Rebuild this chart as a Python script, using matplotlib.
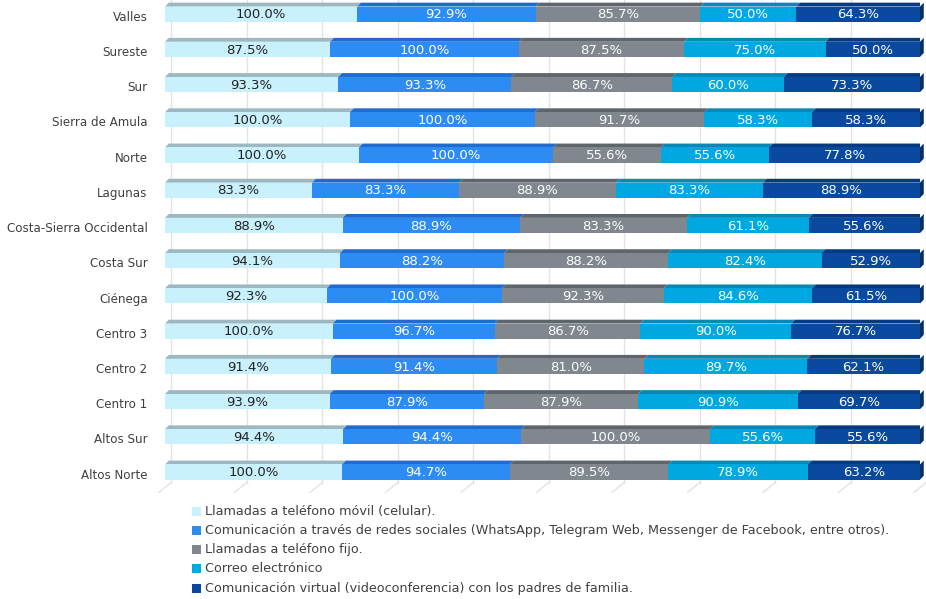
import matplotlib.pyplot as plt
from matplotlib.patches import Polygon, Rectangle
import numpy as np

regiones = ['Valles', 'Sureste', 'Sur', 'Sierra de Amula', 'Norte', 'Lagunas',
            'Costa-Sierra Occidental', 'Costa Sur', 'Ciénega', 'Centro 3',
            'Centro 2', 'Centro 1', 'Altos Sur', 'Altos Norte']

movil = [100.0, 87.5, 93.3, 100.0, 100.0, 83.3, 88.9, 94.1, 92.3, 100.0, 91.4, 93.9, 94.4, 100.0]
redes = [92.9, 100.0, 93.3, 100.0, 100.0, 83.3, 88.9, 88.2, 100.0, 96.7, 91.4, 87.9, 94.4, 94.7]
fijo = [85.7, 87.5, 86.7, 91.7, 55.6, 88.9, 83.3, 88.2, 92.3, 86.7, 81.0, 87.9, 100.0, 89.5]
correo = [50.0, 75.0, 60.0, 58.3, 55.6, 83.3, 61.1, 82.4, 84.6, 90.0, 89.7, 90.9, 55.6, 78.9]
virtual = [64.3, 50.0, 73.3, 58.3, 77.8, 88.9, 55.6, 52.9, 61.5, 76.7, 62.1, 69.7, 55.6, 63.2]

series_labels = [
    'Llamadas a teléfono móvil (celular).',
    'Comunicación a través de redes sociales (WhatsApp, Telegram Web, Messenger de Facebook, entre otros).',
    'Llamadas a teléfono fijo.',
    'Correo electrónico',
    'Comunicación virtual (videoconferencia) con los padres de familia.',
]

# color frontal, color de la cara superior, color del texto
colores = ['#c8f0fd', '#2d8cf3', '#80878e', '#00a8e1', '#0a4a9e']
colores_top = ['#9db8c0', '#1f6ccc', '#5e656b', '#0a88b5', '#063a80']
texto = ['#222222', 'white', 'white', 'white', 'white']

plt.rcParams['font.family'] = ['DejaVu Sans']

W, H = 926, 599
fig = plt.figure(figsize=(W / 100, H / 100), dpi=100)
ax = fig.add_axes([165 / W, 1 - 490 / H, 755 / W, 490 / H])
ax.set_xlim(0, 100)
ax.set_ylim(-0.51, 13.4)

data = np.array([movil, redes, fijo, correo, virtual])
pct = data / data.sum(axis=0) * 100

n = len(regiones)
ypos = np.arange(n)[::-1]  # Valles arriba
h = 0.215
dx, dy = 0.5, 0.11

# cuadrícula con "piso" en 3D
gx = 0.8
floor_back = -0.3
for v in range(0, 101, 10):
    ax.plot([v + gx, v + gx], [floor_back, 13.4], color='#e3e3e3', lw=1, zorder=0, clip_on=False)
    ax.plot([v + gx, v - gx], [floor_back, floor_back - 0.28], color='#e3e3e3', lw=1, zorder=0, clip_on=False)

for i, y in enumerate(ypos):
    left = 0.0
    for k in range(5):
        w = pct[k, i]
        front = Polygon([(left, y - h), (left + w, y - h), (left + w, y + h), (left, y + h)],
                        closed=True, facecolor=colores[k], edgecolor='none', zorder=3)
        top = Polygon([(left, y + h), (left + w, y + h), (left + w + dx, y + h + dy), (left + dx, y + h + dy)],
                      closed=True, facecolor=colores_top[k], edgecolor='none', zorder=2)
        ax.add_patch(top)
        ax.add_patch(front)
        ax.text(left + w / 2, y - 0.02, f'{data[k, i]:.1f}%', ha='center', va='center',
                fontsize=9.5, color=texto[k], zorder=5)
        left += w
    side = Polygon([(100, y - h), (100 + dx, y - h + dy), (100 + dx, y + h + dy), (100, y + h)],
                   closed=True, facecolor='#062f66', edgecolor='none', zorder=2, clip_on=False)
    ax.add_patch(side)
    ax.text(-2.3, y - 0.09, regiones[i], ha='right', va='center', fontsize=8.6, color='#404040')

ax.set_xticks([])
ax.set_yticks([])
for s in ax.spines.values():
    s.set_visible(False)

# leyenda manual
for j, (c, lab) in enumerate(zip(colores, series_labels)):
    yc = 511 + j * 19.3
    fig.patches.append(Rectangle((192 / W, 1 - (yc + 4.5) / H), 9 / W, 9 / H,
                                 transform=fig.transFigure, facecolor=c, edgecolor='none'))
    fig.text(205 / W, 1 - yc / H, lab, ha='left', va='center', fontsize=9.2, color='#404040')

fig.savefig('out.png', dpi=100)
